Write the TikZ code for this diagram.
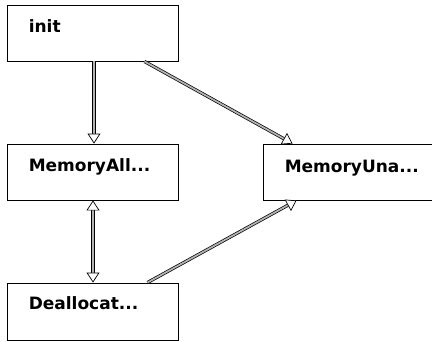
\documentclass[tikz,border=0pt]{standalone}
\usepackage{fontspec}
\setmainfont{DejaVu Sans}
\usetikzlibrary{arrows.meta}
\tikzset{
  statebox/.style={draw=black, line width=0.9pt, fill=white, rectangle, inner sep=0pt},
  statelabel/.style={font=\bfseries\fontsize{17}{20}\selectfont, inner sep=0pt, anchor=base west},
  tip/.style={Triangle[open, fill=white, line width=0.7pt, length=10pt, width=13pt]},
  link/.style={draw=black, line width=0.7pt, double=gray!60, double distance=1.8pt, -{Triangle[open, fill=white, line width=0.7pt, length=10pt, width=13pt]}},
  bilink/.style={link, {Triangle[open, fill=white, line width=0.7pt, length=10pt, width=13pt]}-{Triangle[open, fill=white, line width=0.7pt, length=10pt, width=13pt]}}
}
\begin{document}
\begin{tikzpicture}[x=1pt, y=-1pt]
  \useasboundingbox[fill=white] (0,0) rectangle (432,341);

  % state boxes
  \node[statebox, minimum width=171pt, minimum height=56pt] (init)    at (92.5,33)  {};
  \node[statebox, minimum width=171pt, minimum height=56pt] (memall)  at (92.5,172) {};
  \node[statebox, minimum width=171pt, minimum height=57pt] (dealloc) at (92.5,311.5) {};
  \node[statebox, minimum width=180pt, minimum height=56pt] (memuna)  at (353,172) {};

  % state names
  \node[statelabel] (tinit)    at ([xshift=22pt, yshift=-28pt]init.north west)    {init};
  \node[statelabel] (tmemall)  at ([xshift=22pt, yshift=-28pt]memall.north west)  {MemoryAll...};
  \node[statelabel] (tdealloc) at ([xshift=22pt, yshift=-27pt]dealloc.north west) {Deallocat...};
  \node[statelabel] (tmemuna)  at ([xshift=22pt, yshift=-29pt]memuna.north west)  {MemoryUna...};

  % transitions
  \draw[link]   ([xshift=1.5pt]init.south) -- ([xshift=1.5pt]memall.north);
  \draw[bilink] ([xshift=0.5pt]memall.south) -- ([xshift=0.5pt]dealloc.north);
  \draw[link]   ([xshift=-34pt]init.south east) -- ([xshift=30pt]memuna.north west);
  \draw[link]   ([xshift=-31pt]dealloc.north east) -- ([xshift=34pt]memuna.south west);
\end{tikzpicture}
\end{document}
